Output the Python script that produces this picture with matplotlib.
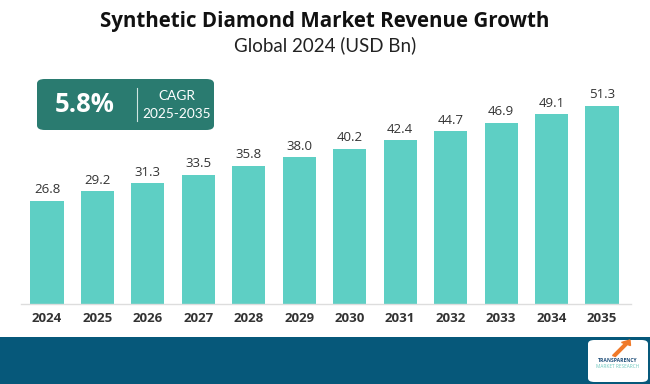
import matplotlib
matplotlib.use("Agg")
import matplotlib.pyplot as plt
from matplotlib.patches import FancyBboxPatch, Rectangle, FancyArrow

years = ["2024", "2025", "2026", "2027", "2028", "2029", "2030", "2031", "2032", "2033", "2034", "2035"]
revenue = [26.8, 29.2, 31.3, 33.5, 35.8, 38.0, 40.2, 42.4, 44.7, 46.9, 49.1, 51.3]
title = "Synthetic Diamond Market Revenue Growth"
subtitle = "Global 2024 (USD Bn)"
cagr_value = "5.8%"
cagr_label = "CAGR"
cagr_period = "2025-2035"

W, H = 650, 384
fig = plt.figure(figsize=(W / 100, H / 100), dpi=100)
fig.patch.set_facecolor("white")

def fx(px):
    return px / W

def fy(py):
    return 1 - py / H

# axes placement in pixels
ax_left, ax_right, ax_top, ax_bottom = 21, 631, 60, 304
ax = fig.add_axes([fx(ax_left), fy(ax_bottom), fx(ax_right - ax_left), (ax_bottom - ax_top) / H])
x = list(range(len(years)))
bars = ax.bar(x, revenue, width=0.655, color="#5ECFC4", zorder=2)
ax.set_xlim(-0.515, 11.575)
ax.set_ylim(0, (ax_bottom - ax_top) / 3.86)
for xi, v in zip(x, revenue):
    ax.text(xi, v + 1.2, f"{v:.1f}", ha="center", va="bottom", fontsize=9.5,
            color="#333333", family="Open Sans")
ax.set_xticks(x)
ax.set_xticklabels(years, fontsize=9.5, fontweight="bold", color="#333333", family="Open Sans")
ax.tick_params(axis="x", length=0, pad=6)
ax.set_yticks([])
for s in ["top", "right", "left"]:
    ax.spines[s].set_visible(False)
ax.spines["bottom"].set_color("#DDDDDD")
ax.spines["bottom"].set_linewidth(1)
ax.set_facecolor("none")

# titles
fig.text(0.5, fy(22), title, ha="center", va="center", fontsize=14.8, fontweight="bold",
         color="#111111", family="Open Sans")
fig.text(0.5, fy(45), subtitle, ha="center", va="center", fontsize=13.5,
         color="#222222", family="Lato")

# CAGR box
box = FancyBboxPatch((fx(37), fy(130)), fx(177), (130 - 79) / H,
                     boxstyle="round,pad=0,rounding_size=0.012",
                     transform=fig.transFigure, facecolor="#2A7B70", edgecolor="none")
fig.add_artist(box)
fig.text(fx(85), fy(104), cagr_value, ha="center", va="center", fontsize=18.5,
         fontweight="bold", color="white", family="Open Sans")
fig.add_artist(plt.Line2D([fx(137), fx(137)], [fy(88), fy(121)], transform=fig.transFigure,
                          color="#CFE5E1", linewidth=0.8))
fig.text(fx(177), fy(96), cagr_label, ha="center", va="center", fontsize=9.8,
         color="white", family="Lato")
fig.text(fx(177), fy(114), cagr_period, ha="center", va="center", fontsize=9.8,
         color="white", family="Lato")

# footer band
fig.add_artist(Rectangle((0, 0), 1, (H - 337) / H, transform=fig.transFigure,
                         facecolor="#06587A", edgecolor="none"))
# logo
logo = FancyBboxPatch((fx(588), fy(382)), fx(60), (382 - 340) / H,
                      boxstyle="round,pad=0,rounding_size=0.01",
                      transform=fig.transFigure, facecolor="white", edgecolor="none")
fig.add_artist(logo)
fig.add_artist(FancyArrow(fx(614), fy(356), fx(12), 12 / H, width=0.005,
                          head_width=0.016, head_length=0.012,
                          transform=fig.transFigure, color="#F07A2A"))
fig.text(fx(618), fy(361), "TRANSPARENCY", ha="center", va="center", fontsize=3.6,
         fontweight="bold", color="#1F4E79", family="Open Sans")
fig.text(fx(618), fy(367), "MARKET RESEARCH", ha="center", va="center", fontsize=3.4,
         color="#6CC7BD", family="Open Sans")

fig.savefig("out.png", dpi=100, facecolor="white")
